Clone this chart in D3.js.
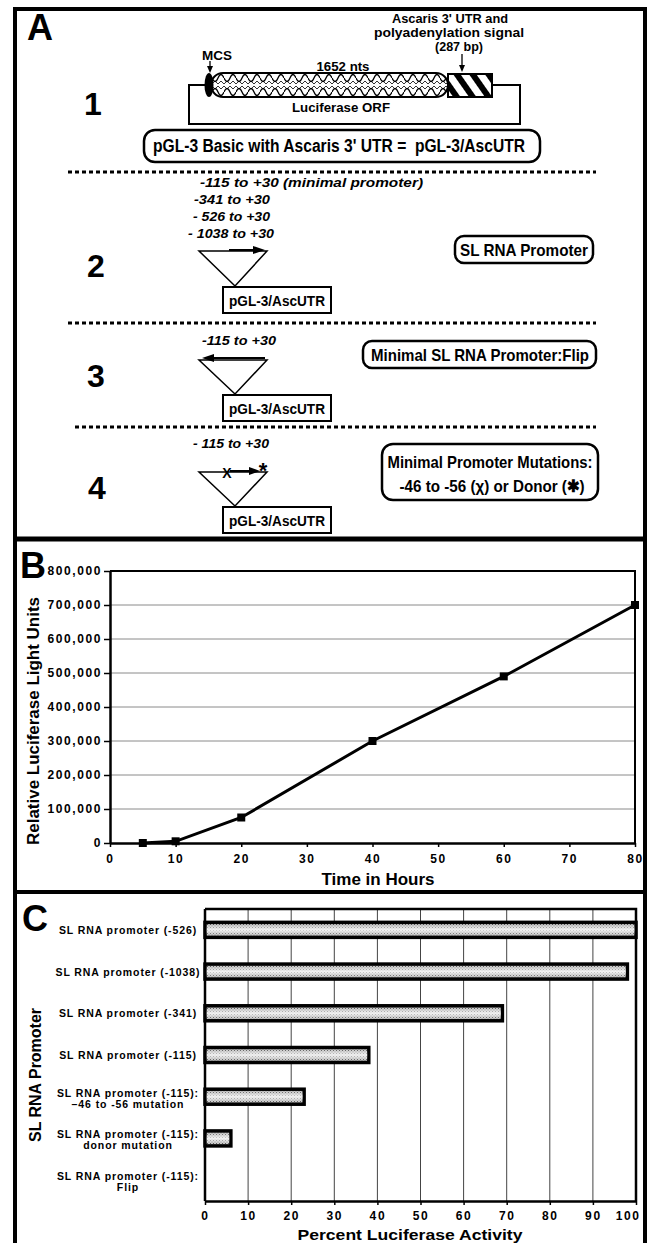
<!DOCTYPE html>
<html>
<head>
<meta charset="utf-8">
<script src="https://cdn.jsdelivr.net/npm/d3@7"></script>
<style>
body{margin:0;background:#fff;}
svg{display:block;font-family:"Liberation Sans",Arial,Helvetica,sans-serif;}
.ax text{font-weight:bold;font-size:12px;letter-spacing:1.6px;fill:#000;}
.ax line{stroke:#000;stroke-width:1.5;}
.ax path{stroke:#000;stroke-width:2.5;}
</style>
</head>
<body>
<svg width="652" height="1243"></svg>
<script>
// ---- data ----
var constructNums=["1","2","3","4"];
var promoterRanges=["-115 to +30 (minimal promoter)","-341 to +30","- 526 to +30","- 1038 to +30"];
var flipRange="-115 to +30";
var mutRange="- 115 to +30";
var constructTitles=["SL RNA Promoter","Minimal SL RNA Promoter:Flip"];
var mutTitle=["Minimal Promoter Mutations:","-46 to -56 (\u03c7) or Donor (\u2731)"];

var timeHours=[5,10,20,40,60,80];
var lightUnits=[0,5000,75000,300000,490000,700000];
var hourTicks=[0,10,20,30,40,50,60,70,80];
var unitTicks=[0,100000,200000,300000,400000,500000,600000,700000,800000];

var promoterNames=[
  ["SL RNA promoter (-526)"],
  ["SL RNA promoter (-1038)"],
  ["SL RNA promoter (-341)"],
  ["SL RNA promoter (-115)"],
  ["SL RNA promoter (-115):","\u201346 to -56 mutation"],
  ["SL RNA promoter (-115):","donor mutation"],
  ["SL RNA promoter (-115):","Flip"]
];
var percentActivity=[100,98,69,38,23,6,0];
var percentTicks=[0,10,20,30,40,50,60,70,80,90,100];

var svg=d3.select("svg");
var defs=svg.append("defs");

// helper for bold text squeezed to a measured width
var txt=function(g,x,y,s,size,w,anchor,italic)
{
  var t=g.append("text").attr("x",x).attr("y",y).text(s)
         .attr("font-size",size).attr("font-weight","bold")
         .attr("text-anchor",anchor||"middle")
         .style("white-space","pre");
  if(w){t.attr("textLength",w).attr("lengthAdjust","spacingAndGlyphs");}
  if(italic){t.attr("font-style","italic");}
  return t;
}

// ---- outer frame ----
svg.append("path").attr("d","M15,1243V9H645V1243")
   .attr("fill","none").attr("stroke","#000").attr("stroke-width",4);
svg.append("line").attr("x1",15).attr("x2",645).attr("y1",539).attr("y2",539)
   .attr("stroke","#000").attr("stroke-width",5);
svg.append("line").attr("x1",15).attr("x2",645).attr("y1",892).attr("y2",892)
   .attr("stroke","#000").attr("stroke-width",4);

// ===================== panel A =====================
var gA=svg.append("g");
txt(gA,27,40,"A",36,null,"start");

// patterns
var wave=defs.append("pattern").attr("id","wave").attr("patternUnits","userSpaceOnUse")
   .attr("x",212).attr("y",73).attr("width",12).attr("height",24);
wave.append("rect").attr("width",12).attr("height",24).attr("fill","#fff");
wave.append("path").attr("d","M0,5 Q3,12 6,5 T12,5").attr("fill","none").attr("stroke","#000").attr("stroke-width",1.3);
wave.append("path").attr("d","M0,19 Q3,12 6,19 T12,19").attr("fill","none").attr("stroke","#000").attr("stroke-width",1.3);
wave.append("path").attr("d","M0,11 L3,8 L6,11 L9,8 L12,11").attr("fill","none").attr("stroke","#000").attr("stroke-width",0.8);
wave.append("path").attr("d","M0,13 L3,16 L6,13 L9,16 L12,13").attr("fill","none").attr("stroke","#000").attr("stroke-width",0.8);

var hatch=defs.append("pattern").attr("id","hatch").attr("patternUnits","userSpaceOnUse")
   .attr("width",13).attr("height",13).attr("patternTransform","translate(450,75) rotate(-35)");
hatch.append("rect").attr("width",13).attr("height",13).attr("fill","#fff");
hatch.append("rect").attr("x",3).attr("width",6).attr("height",13).attr("fill","#000");

// vector drawing
gA.append("rect").attr("x",189).attr("y",85).attr("width",331).attr("height",39)
  .attr("fill","none").attr("stroke","#000").attr("stroke-width",2);
gA.append("rect").attr("x",211).attr("y",73).attr("width",237).attr("height",24).attr("rx",12)
  .attr("fill","url(#wave)").attr("stroke","#000").attr("stroke-width",2);
gA.append("rect").attr("x",448).attr("y",74).attr("width",44).attr("height",23)
  .attr("fill","url(#hatch)").attr("stroke","#000").attr("stroke-width",2);
gA.append("ellipse").attr("cx",209).attr("cy",85).attr("rx",4.5).attr("ry",12).attr("fill","#000");

var arrowDown=function(x,y1,y2)
{
  gA.append("line").attr("x1",x).attr("x2",x).attr("y1",y1).attr("y2",y2-5)
    .attr("stroke","#000").attr("stroke-width",1.3);
  gA.append("path").attr("d","M"+(x-3)+","+(y2-7)+"L"+(x+3)+","+(y2-7)+"L"+x+","+y2+"Z").attr("fill","#000");
}
arrowDown(210,61,73);
arrowDown(462,54,72);

txt(gA,450,23,"Ascaris 3' UTR and",12,116);
txt(gA,449,37,"polyadenylation signal",12,150);
txt(gA,459,51,"(287 bp)",12,48);
txt(gA,217,60,"MCS",13,30);
txt(gA,343,71,"1652 nts",13,53);
txt(gA,341,112,"Luciferase ORF",13,98);

gA.append("rect").attr("x",144).attr("y",130).attr("width",396).attr("height",32).attr("rx",11)
  .attr("fill","none").attr("stroke","#000").attr("stroke-width",2.5);
txt(gA,153,152,"pGL-3 Basic with Ascaris 3' UTR =  pGL-3/AscUTR",18,372,"start");

// dotted separators
[[68,172],[68,323],[75,427]].forEach(function(d)
{
  gA.append("line").attr("x1",d[0]).attr("x2",596).attr("y1",d[1]).attr("y2",d[1])
    .attr("stroke","#000").attr("stroke-width",3).attr("stroke-dasharray","4,3");
});

// construct numbers
var numPos=[[93,115],[96,277],[96,387],[97,499]];
constructNums.forEach(function(n,i){ txt(gA,numPos[i][0],numPos[i][1],n,32); });

// promoter range labels
var rangePos=[[200,187,223],[194,204,76],[193,221,77],[188,238,86]];
promoterRanges.forEach(function(s,i){ txt(gA,rangePos[i][0],rangePos[i][1],s,13,rangePos[i][2],"start",true); });
txt(gA,202,345,flipRange,13,74,"start",true);
txt(gA,193,448,mutRange,13,76,"start",true);

// triangles + reporter boxes
var triTop=[251,360,472];
var boxTop=[287,395,507];
triTop.forEach(function(t,i)
{
  gA.append("path").attr("d","M199,"+t+"L267,"+t+"L235,"+(boxTop[i]-1)+"Z")
    .attr("fill","#fff").attr("stroke","#000").attr("stroke-width",1.5);
  gA.append("rect").attr("x",223).attr("y",boxTop[i]).attr("width",108).attr("height",26)
    .attr("fill","#fff").attr("stroke","#000").attr("stroke-width",2);
  txt(gA,277,boxTop[i]+19,"pGL-3/AscUTR",15,96);
});
// arrows on triangles
gA.append("line").attr("x1",229).attr("x2",256).attr("y1",250).attr("y2",250).attr("stroke","#000").attr("stroke-width",2);
gA.append("path").attr("d","M253,246L265,250L253,254Z").attr("fill","#000");
gA.append("line").attr("x1",265).attr("x2",212).attr("y1",358).attr("y2",358).attr("stroke","#000").attr("stroke-width",2);
gA.append("path").attr("d","M214,354L202,358L214,362Z").attr("fill","#000");
gA.append("line").attr("x1",230).attr("x2",252).attr("y1",471).attr("y2",471).attr("stroke","#000").attr("stroke-width",2);
gA.append("path").attr("d","M249,467L260,471L249,475Z").attr("fill","#000");
txt(gA,227,478,"X",14);
txt(gA,263,478,"*",22);

// right side titled boxes
var titleBoxes=[[455,236,138,27,524,256,128],[363,341,233,27,480,361,218]];
constructTitles.forEach(function(s,i)
{
  var b=titleBoxes[i];
  gA.append("rect").attr("x",b[0]).attr("y",b[1]).attr("width",b[2]).attr("height",b[3]).attr("rx",9)
    .attr("fill","none").attr("stroke","#000").attr("stroke-width",2.5);
  txt(gA,b[4],b[5],s,17,b[6]);
});
gA.append("rect").attr("x",382).attr("y",444).attr("width",216).attr("height",56).attr("rx",11)
  .attr("fill","none").attr("stroke","#000").attr("stroke-width",2.5);
txt(gA,490,468,mutTitle[0],17,205);
txt(gA,492,492,mutTitle[1],17,185);

// ===================== panel B =====================
var gB=svg.append("g");
txt(gB,20,578,"B",36,null,"start");
var xB=d3.scaleLinear().domain([0,80]).range([110,635]);
var yB=d3.scaleLinear().domain([0,800000]).range([843,571]);

gB.selectAll("line.grid").data(unitTicks.slice(1,-1)).enter().append("line")
  .attr("x1",xB(0)).attr("x2",xB(80))
  .attr("y1",function(d){return yB(d);}).attr("y2",function(d){return yB(d);})
  .attr("stroke","#8a8a8a").attr("stroke-width",1);
gB.append("path").attr("d","M"+xB(0)+","+yB(800000)+"H"+xB(80)+"V"+yB(0))
  .attr("fill","none").attr("stroke","#000").attr("stroke-width",2);

var yAxisB=d3.axisLeft(yB).tickValues(unitTicks).tickFormat(d3.format(","))
             .tickSize(6).tickSizeOuter(0).tickPadding(2);
gB.append("g").classed("ax",true).attr("transform","translate("+xB(0)+",0)").call(yAxisB);
var xAxisB=d3.axisBottom(xB).tickValues(hourTicks).tickSize(4).tickSizeOuter(0).tickPadding(7);
gB.append("g").classed("ax",true).attr("transform","translate(0,"+yB(0)+")").call(xAxisB)
  .selectAll("text").attr("font-size",13);

var line=d3.line().x(function(d,i){return xB(timeHours[i]);}).y(function(d){return yB(d);});
gB.append("path").datum(lightUnits).attr("d",line)
  .attr("fill","none").attr("stroke","#000").attr("stroke-width",3);
gB.selectAll("rect.pt").data(lightUnits).enter().append("rect")
  .attr("x",function(d,i){return xB(timeHours[i])-4;})
  .attr("y",function(d){return yB(d)-4;})
  .attr("width",8).attr("height",8).attr("fill","#000");

txt(gB,378,885,"Time in Hours",17,113);
txt(gB,0,0,"Relative Luciferase Light Units",17,248)
  .attr("transform","translate(39,721) rotate(-90)");

// ===================== panel C =====================
var gC=svg.append("g");
txt(gC,22,931,"C",36,null,"start");
var xC=d3.scaleLinear().domain([0,100]).range([205,636]);
var yC=d3.scaleBand().domain(d3.range(promoterNames.length)).range([909,1201]);

gC.selectAll("line.grid").data(percentTicks.slice(1,-1)).enter().append("line")
  .attr("x1",function(d){return xC(d);}).attr("x2",function(d){return xC(d);})
  .attr("y1",yC.range()[0]).attr("y2",yC.range()[1])
  .attr("stroke","#444").attr("stroke-width",1);
gC.append("path").attr("d","M"+xC(0)+","+yC.range()[0]+"H"+xC(100)+"V"+yC.range()[1])
  .attr("fill","none").attr("stroke","#000").attr("stroke-width",2.5);

var stip=defs.append("pattern").attr("id","stip").attr("patternUnits","userSpaceOnUse")
   .attr("width",3).attr("height",3);
stip.append("rect").attr("width",3).attr("height",3).attr("fill","#c4c4c4");
stip.append("rect").attr("width",1).attr("height",1).attr("fill","#444");
stip.append("rect").attr("x",1.5).attr("y",1.5).attr("width",1).attr("height",1).attr("fill","#666");
var shine=defs.append("linearGradient").attr("id","shine").attr("x1",0).attr("x2",0).attr("y1",0).attr("y2",1);
shine.append("stop").attr("offset","0").attr("stop-color","#fff").attr("stop-opacity",0);
shine.append("stop").attr("offset","0.5").attr("stop-color","#fff").attr("stop-opacity",0.8);
shine.append("stop").attr("offset","1").attr("stop-color","#fff").attr("stop-opacity",0);

var barH=15;
var bars=gC.selectAll("g.bar").data(percentActivity).enter().append("g").classed("bar",true)
  .filter(function(d){return d>0;});
bars.append("rect")
  .attr("x",xC(0)).attr("y",function(d,i){return yC(i)+yC.bandwidth()/2-barH/2;})
  .attr("width",function(d){return xC(d)-xC(0);}).attr("height",barH)
  .attr("fill","url(#stip)").attr("stroke","#000").attr("stroke-width",3.5);
bars.append("rect")
  .attr("x",xC(0)+1.5).attr("y",function(d,i){return yC(i)+yC.bandwidth()/2-barH/2+1.5;})
  .attr("width",function(d){return xC(d)-xC(0)-3;}).attr("height",barH-3)
  .attr("fill","url(#shine)");

var xAxisC=d3.axisBottom(xC).tickValues(percentTicks).tickSize(4).tickSizeOuter(0).tickPadding(6);
var axC=gC.append("g").classed("ax",true).attr("transform","translate(0,"+yC.range()[1]+")").call(xAxisC);
axC.selectAll("text").attr("font-size",13);
axC.selectAll(".tick").filter(function(d){return d==100;}).select("text")
   .attr("text-anchor","end").attr("x",4);
gC.append("line").attr("x1",xC(0)).attr("x2",xC(0)).attr("y1",yC.range()[0]).attr("y2",yC.range()[1])
  .attr("stroke","#000").attr("stroke-width",2.5);

var cats=gC.selectAll("text.cat").data(promoterNames).enter().append("text").classed("cat",true)
  .attr("font-size",10.5).attr("font-weight","bold").attr("letter-spacing","0.9px")
  .attr("text-anchor","middle")
  .attr("y",function(d,i){return yC(i)+yC.bandwidth()/2+(d.length==1?4:0);});
cats.selectAll("tspan").data(function(d){return d;}).enter().append("tspan")
  .attr("x",128).attr("dy",function(d,i){return i==0?0:11;}).text(function(d){return d;});

txt(gC,410,1239.5,"Percent Luciferase Activity",15.5,225);
txt(gC,0,0,"SL RNA Promoter",16,134).attr("transform","translate(41,1075) rotate(-90)");
</script>
</body>
</html>
